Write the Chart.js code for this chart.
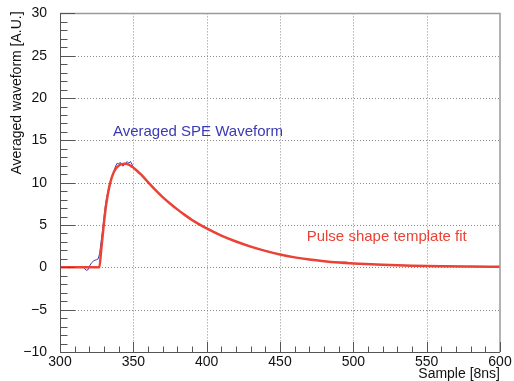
<!DOCTYPE html>
<html>
<head>
<meta charset="utf-8">
<script src="https://cdn.jsdelivr.net/npm/chart.js@4/dist/chart.umd.min.js"></script>
<style>
  html, body { margin: 0; padding: 0; background: #ffffff; }
  #wrap { width: 514px; height: 381px; }
</style>
</head>
<body>
<div id="wrap"><canvas id="c" width="514" height="381"></canvas></div>
<script>
// Averaged single-photoelectron waveform (sample index, amplitude in A.U.)
const waveSample = [300, 303, 306, 309, 312, 315, 316, 317, 318, 319, 320, 321, 322, 323, 324, 325, 326,
  327, 328, 329, 330, 331, 332, 333, 334, 335, 336, 337, 338, 339, 340, 341, 342, 343, 344, 345, 346,
  347, 348, 349, 350, 352, 355, 358, 360, 365, 370, 375, 380, 385, 390, 395, 400, 410, 420, 430, 440, 450,
  460, 470, 480, 490, 495, 500, 520, 540, 560, 580, 600];
const waveValue = [0.0, 0.05, -0.05, 0.02, 0.0, 0.05, 0.0, -0.2, -0.35, -0.3, 0.1, 0.4, 0.6, 0.8, 0.85, 0.9, 1.0,
  1.6, 3.0, 4.3, 5.9, 7.4, 8.4, 9.2, 9.9, 10.5, 11.0, 11.5, 12.0, 12.3, 12.2, 12.4, 12.1, 11.95, 12.2, 12.4, 12.45,
  12.3, 12.5, 12.2, 11.8, 11.5, 11.0, 10.45, 10.1, 9.15, 8.3, 7.55, 6.85, 6.2, 5.6, 5.1, 4.6, 3.75, 3.05, 2.45, 1.95, 1.52,
  1.18, 0.92, 0.72, 0.6, 0.62, 0.46, 0.3, 0.2, 0.13, 0.09, 0.06];

// Pulse shape template fit
const fitSample = [300, 326.8, 328, 329, 330, 331, 332, 333, 334, 335, 336, 337, 338, 340, 342, 344, 346, 348,
  350, 352, 355, 358, 360, 365, 370, 375, 380, 385, 390, 395, 400, 410, 420, 430, 440, 450, 460, 470, 480, 490, 500,
  520, 540, 560, 580, 600];
const fitValue = [0, 0, 1.9, 3.6, 5.3, 6.8, 8.0, 9.0, 9.8, 10.45, 10.95, 11.35, 11.65, 12.0, 12.2, 12.25, 12.2, 12.02,
  11.78, 11.48, 11.0, 10.45, 10.08, 9.15, 8.3, 7.55, 6.85, 6.2, 5.6, 5.08, 4.6, 3.75, 3.05, 2.45, 1.95, 1.52, 1.18, 0.92,
  0.72, 0.57, 0.46, 0.3, 0.2, 0.13, 0.09, 0.06];

// Axis ranges and tick spacing
const xRange = [300, 600];
const yRange = [-10, 30];
const xMajorStep = 50, xMinorStep = 10;
const yMajorStep = 5, yMinorStep = 1;

// Captions placed in data coordinates
const waveCaption = { text: 'Averaged SPE Waveform', x: 336.1, y: 15.5 };
const fitCaption = { text: 'Pulse shape template fit', x: 468.2, y: 3.06 };
const xTitle = 'Sample [8ns]';
const yTitle = 'Averaged waveform [A.U.]';

const BLUE = '#3a3ab4';
const RED = '#ea4335';
const FONT = '"Liberation Sans", Arial, Helvetica, sans-serif';

const toPoints = (xs, ys) => xs.map((x, i) => ({ x: x, y: ys[i] }));

// Frame, dotted grid, inward ticks and titles in the ROOT style
const rootFrame = {
  id: 'rootFrame',
  beforeDatasetsDraw(chart) {
    const { ctx, chartArea: a, scales: { x, y } } = chart;
    ctx.save();
    ctx.strokeStyle = '#8a8a8a';
    ctx.lineWidth = 1;
    ctx.setLineDash([1, 2]);
    for (let v = xRange[0] + xMajorStep; v < xRange[1]; v += xMajorStep) {
      const px = Math.round(x.getPixelForValue(v)) + 0.5;
      ctx.beginPath(); ctx.moveTo(px, a.top); ctx.lineTo(px, a.bottom); ctx.stroke();
    }
    for (let v = yRange[0] + yMajorStep; v < yRange[1]; v += yMajorStep) {
      const py = Math.round(y.getPixelForValue(v)) + 0.5;
      ctx.beginPath(); ctx.moveTo(a.left, py); ctx.lineTo(a.right, py); ctx.stroke();
    }
    ctx.restore();
  },
  afterDatasetsDraw(chart) {
    const { ctx, chartArea: a, scales: { x, y } } = chart;
    ctx.save();
    // top and right frame
    ctx.strokeStyle = '#9a9a9a';
    ctx.lineWidth = 1.5;
    ctx.beginPath();
    ctx.moveTo(a.left, a.top); ctx.lineTo(a.right, a.top); ctx.lineTo(a.right, a.bottom);
    ctx.stroke();
    // axes with inward ticks
    ctx.strokeStyle = '#555555';
    ctx.lineWidth = 1;
    ctx.beginPath();
    ctx.moveTo(a.left + 0.5, a.top); ctx.lineTo(a.left + 0.5, a.bottom + 0.5); ctx.lineTo(a.right, a.bottom + 0.5);
    ctx.stroke();
    ctx.beginPath();
    for (let v = xRange[0]; v <= xRange[1]; v += xMinorStep) {
      const px = Math.round(x.getPixelForValue(v)) + 0.5;
      const len = (v - xRange[0]) % xMajorStep === 0 ? 10 : 5.5;
      ctx.moveTo(px, a.bottom); ctx.lineTo(px, a.bottom - len);
    }
    for (let v = yRange[0]; v <= yRange[1]; v += yMinorStep) {
      const py = Math.round(y.getPixelForValue(v)) + 0.5;
      const len = (v - yRange[0]) % yMajorStep === 0 ? 15 : 7.5;
      ctx.moveTo(a.left, py); ctx.lineTo(a.left + len, py);
    }
    ctx.stroke();
    ctx.restore();
  },
  afterDraw(chart) {
    const { ctx, chartArea: a, scales: { x, y } } = chart;
    ctx.save();
    ctx.font = '15px ' + FONT;
    ctx.textBaseline = 'alphabetic';
    ctx.textAlign = 'left';
    ctx.fillStyle = BLUE;
    ctx.fillText(waveCaption.text, x.getPixelForValue(waveCaption.x), y.getPixelForValue(waveCaption.y));
    ctx.fillStyle = RED;
    ctx.fillText(fitCaption.text, x.getPixelForValue(fitCaption.x), y.getPixelForValue(fitCaption.y));

    ctx.fillStyle = '#111111';
    ctx.font = '14px ' + FONT;
    ctx.textAlign = 'right';
    ctx.textBaseline = 'middle';
    ctx.fillText(xTitle, a.right, 374);
    ctx.translate(17, a.top - 2);
    ctx.rotate(-Math.PI / 2);
    ctx.fillText(yTitle, 0, 0);
    ctx.restore();
  }
};

new Chart(document.getElementById('c'), {
  type: 'line',
  data: {
    datasets: [
      {
        label: 'Averaged SPE Waveform',
        data: toPoints(waveSample, waveValue),
        borderColor: BLUE,
        borderWidth: 1,
        pointRadius: 0,
        tension: 0,
        order: 2
      },
      {
        label: 'Pulse shape template fit',
        data: toPoints(fitSample, fitValue),
        borderColor: RED,
        borderWidth: 2.5,
        pointRadius: 0,
        cubicInterpolationMode: 'monotone',
        order: 1
      }
    ]
  },
  options: {
    responsive: false,
    animation: false,
    events: [],
    layout: { padding: { top: 12, right: 14, left: 0, bottom: 0 } },
    plugins: { legend: { display: false }, tooltip: { enabled: false } },
    scales: {
      x: {
        type: 'linear',
        min: xRange[0], max: xRange[1],
        grid: { display: false },
        border: { display: false },
        ticks: {
          stepSize: xMajorStep, padding: -6, maxRotation: 0,
          color: '#111111', font: { size: 14, family: FONT }
        },
        afterFit(scale) { scale.height = 29; }
      },
      y: {
        type: 'linear',
        min: yRange[0], max: yRange[1],
        grid: { display: false },
        border: { display: false },
        ticks: {
          stepSize: yMajorStep, padding: 5,
          color: '#111111', font: { size: 14, family: FONT },
          callback: v => String(v).replace('-', '\u2212')
        },
        afterFit(scale) { scale.width = 60; }
      }
    }
  },
  plugins: [rootFrame]
});
</script>
</body>
</html>
